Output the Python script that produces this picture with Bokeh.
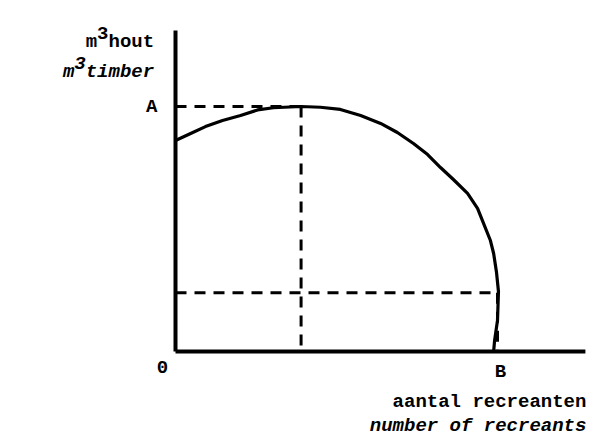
from bokeh.plotting import figure
from bokeh.models import Range1d
from bokeh.core.properties import value
from bokeh.embed import file_html
from bokeh.resources import INLINE

# ---- data (x = number of recreants, y = m3 timber) ----
recreants = [0, 4.7, 9.3, 14.6, 20.2, 25.5, 30.4, 39, 45, 51.2, 57.5, 63.7, 68.9,
             73.9, 78.3, 82.3, 86.3, 90.7, 93.8, 95.7, 97.8, 98.8, 99.7, 100.3,
             100.0, 99.1, 98.8]
timber = [86.1, 89, 91.8, 94.3, 96.3, 98.6, 99.5, 100, 99.7, 98.8, 96.3, 93.1, 89.4,
          84.9, 80.4, 75.1, 70.2, 64.5, 58.4, 52.2, 45.3, 40, 32.2, 24.5,
          12.7, 4.5, 0]
point_A = 100      # timber level of A (maximum)
peak_x = 39        # recreants at maximum timber
point_B = 100      # recreants at B
low_y = 24         # timber level of lower dashed line
axis_x_end = 127.3
axis_y_end = 131

# ---- layout ----
W, H = 595, 442
ox, oy = 175, 351          # origin position in plot pixels (from top-left)
sx, sy = 3.22, 2.45        # pixels per data unit
FS = 19
cw = 0.6 * FS
FONT = value("Liberation Mono")

p = figure(width=W, height=H, output_backend="svg", toolbar_location=None,
           x_range=Range1d(-ox / sx, (W - ox) / sx),
           y_range=Range1d(-(H - oy) / sy, oy / sy),
           x_axis_type=None, y_axis_type=None, min_border=0)
p.grid.visible = False
p.outline_line_color = None
p.background_fill_color = "white"
p.border_fill_color = "white"

# dashed guide lines
dash = "11 8"
p.line([0, peak_x], [point_A, point_A], line_color="black", line_width=3, line_dash=dash)
p.line([peak_x, peak_x], [point_A, 0], line_color="black", line_width=3, line_dash=dash)
p.line([0, point_B], [low_y, low_y], line_color="black", line_width=3, line_dash=dash)
p.line([point_B, point_B], [low_y, 0], line_color="black", line_width=3, line_dash=dash)

# axes
p.line([0, 0], [0, axis_y_end], line_color="black", line_width=4)
p.line([0, axis_x_end], [0, 0], line_color="black", line_width=4)

# curve
p.line(recreants, timber, line_color="black", line_width=3.2, line_join="round")

def txt(x, y, t, xo=0, yo=0, align="left", style="bold", fs=FS):
    p.text(x=[x], y=[y], text=[t], x_offset=xo, y_offset=yo, text_align=align,
           text_baseline="middle", text_font=FONT, text_font_size=f"{fs}px",
           text_font_style=style, text_color="black")

# y-axis labels
R = -10
txt(0, axis_y_end, "m  hout", xo=R, yo=11, align="right")
txt(0, axis_y_end, "3", xo=R - 5.5 * cw, yo=11 - 0.45 * FS, align="center")
txt(0, axis_y_end, "m  timber", xo=R, yo=41, align="right", style="bold italic")
txt(0, axis_y_end, "3", xo=R - 7.5 * cw, yo=41 - 0.45 * FS, align="center", style="bold italic")

# point labels
txt(0, point_A, "A", xo=-18, yo=0, align="right")
txt(0, 0, "0", xo=-13, yo=15, align="center")
txt(point_B, 0, "B", xo=3, yo=20, align="center")

# x-axis labels
txt(axis_x_end, 0, "aantal recreanten", xo=1, yo=50, align="right")
txt(axis_x_end, 0, "number of recreants", xo=1, yo=74, align="right", style="bold italic")

open("out.html", "w").write(file_html(p, INLINE))
